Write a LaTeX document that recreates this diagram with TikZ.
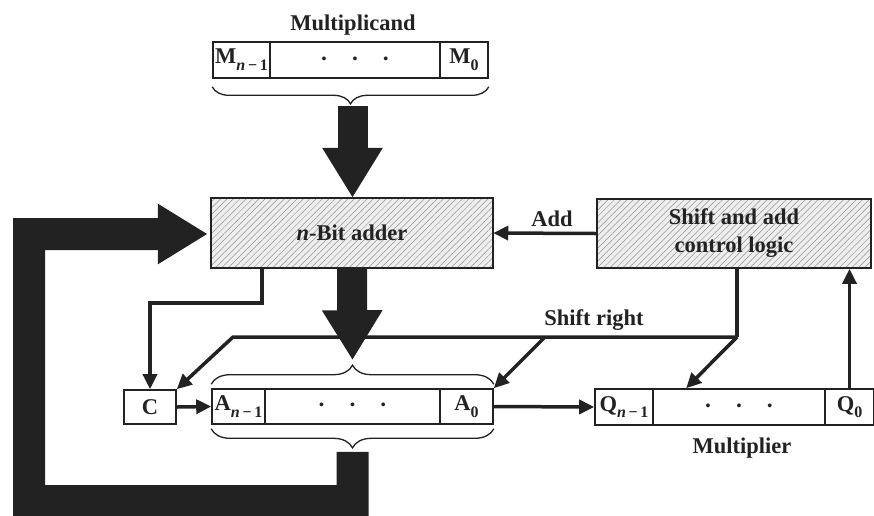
\documentclass[tikz,border=0pt]{standalone}
\usepackage{fontspec}
\setmainfont{Liberation Serif}
\usetikzlibrary{arrows.meta,patterns.meta,decorations.pathreplacing,calc}
\definecolor{ink}{HTML}{222222}
\definecolor{hatchbg}{HTML}{EEEEEE}
\newcommand{\subnm}{\raisebox{-0.3em}{\fontsize{16}{16}\selectfont\textit{n}\,−\,1}}
\newcommand{\subz}{\raisebox{-0.3em}{\fontsize{16}{16}\selectfont 0}}
\newcommand{\regdots}{{\fontsize{14}{14}\selectfont\textbullet\hspace{26pt}\textbullet\hspace{26pt}\textbullet}}
\begin{document}
\begin{tikzpicture}[x=1pt,y=-1pt,
  txt/.style={font=\fontsize{22.5}{28}\selectfont\bfseries, text=ink},
  reg/.style={draw=ink, line width=1.6pt, minimum height=36pt, inner sep=0pt,
    font=\fontsize{22.5}{28}\selectfont\bfseries, text=ink},
  block/.style={draw=ink, line width=1.6pt, inner sep=0pt, align=center,
    font=\fontsize{22.5}{28}\selectfont\bfseries, text=ink,
    preaction={fill=hatchbg},
    pattern={Lines[angle=45,distance=4.5pt,line width=0.5pt]}, pattern color=gray!85},
  conn/.style={draw=ink, line width=3.5pt, -{Triangle[length=15pt,width=14pt]}},
  plainline/.style={draw=ink, line width=3.5pt},
  fat/.style={draw=ink, line width=30pt, -{Triangle[length=50pt,width=57pt]}},
  brc/.style={draw=ink, line width=1.3pt, decorate},
]
\useasboundingbox (0,0) rectangle (874,515);
\fill[white] (0,0) rectangle (874,515);

% labels
\node[txt] (multlabel) at (353,25) {Multiplicand};
\node[txt] (addlabel) at (552,219) {Add};
\node[txt] (srlabel) at (594,320) {Shift right};
\node[txt] (mlabel) at (742,448) {Multiplier};

% multiplicand register
\node[reg, minimum width=57pt] (mh) at (241.5,60) {M\subnm};
\node[reg, minimum width=170pt] (md) at (355,60) {\regdots};
\node[reg, minimum width=48pt] (ml) at (464,60) {M\subz};

% A register and C
\node[reg, minimum width=52pt, minimum height=34pt] (cbox) at (150,407) {C};
\node[reg, minimum width=53pt, minimum height=35pt] (ah) at (238.5,406.5) {A\subnm};
\node[reg, minimum width=175pt, minimum height=35pt] (ad) at (352.5,406.5) {\regdots};
\node[reg, minimum width=53pt, minimum height=35pt] (al) at (466.5,406.5) {A\subz};

% Q register
\node[reg, minimum width=58pt] (qh) at (624,407) {Q\subnm};
\node[reg, minimum width=172pt] (qd) at (739,407) {\regdots};
\node[reg, minimum width=49pt] (ql) at (849.5,407) {Q\subz};

% blocks
\node[block, minimum width=282pt, minimum height=70pt] (adder) at (352,233) {\textit{n}-Bit adder};
\node[block, minimum width=274pt, minimum height=69pt] (ctrl) at (734,233.5) {Shift and add\\control logic};

% braces
\draw[brc, decoration={brace, amplitude=17pt}] ($(ml.south east)+(0,8)$) -- ($(mh.south west)+(0,8)$);
\draw[brc, decoration={brace, amplitude=19pt}] ($(ah.north west)+(0,-4)$) -- ($(al.north east)+(0,-4)$);
\draw[brc, decoration={brace, amplitude=19pt}] ($(al.south east)+(0,4)$) -- ($(ah.south west)+(0,4)$);

\coordinate (mtip) at ($(mh.south west)!0.5!(ml.south east)+(2,27)$);
\coordinate (atop) at ($(ah.north west)!0.5!(al.north east)+(0,-26)$);
\coordinate (abot) at ($(ah.south west)!0.5!(al.south east)+(0,27)$);

% fat arrows
\draw[fat] (mtip) -- (mtip |- adder.north);
\draw[fat, shorten >=2pt] (adder.south) -- (atop);
\coordinate (fb1) at (352.5,501);
\coordinate (fb2) at (29,501);
\coordinate (fb3) at (29,234);
\draw[fat, line width=32pt, shorten >=3pt] (abot) -- (fb1) -- (fb2) -- (fb3) -- (fb3 -| adder.west);

% thin connectors
\draw[conn] (ctrl.west) -- (adder.east);
\coordinate (cy) at (262,303);
\draw[conn] (adder.south -| cy) -- (cy) -| (cbox.north);
\coordinate (sr) at (737,337);
\coordinate (sl) at (233,337);
\coordinate (sb) at (545,337);
\draw[plainline] (ctrl.south -| sr) -- (sr);
\draw[conn] (sr) -- (sl) -- (cbox.north east);
\draw[conn] (sr) -- ($(qd.north west)+(34,0)$);
\draw[conn] (sb) -- (al.north east);
\draw[conn] (cbox.east) -- (ah.west);
\draw[conn] (al.east) -- (qh.west);
\draw[conn] (ql.north) -- (ql.north |- ctrl.south);
\end{tikzpicture}
\end{document}
